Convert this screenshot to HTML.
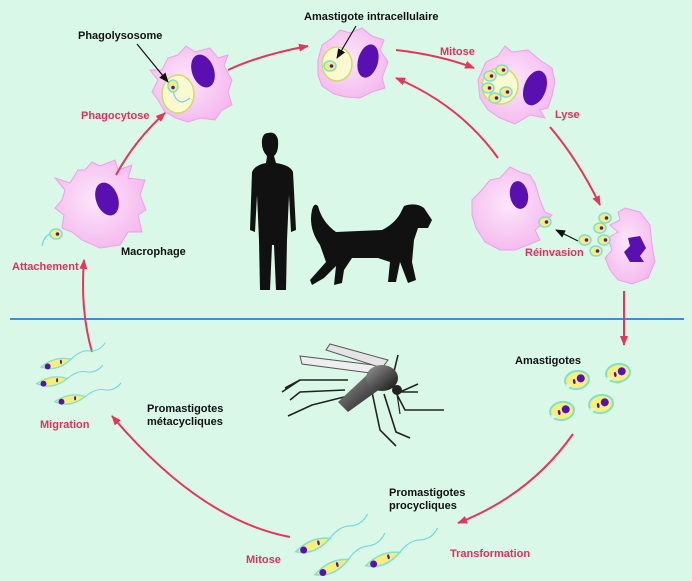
<!DOCTYPE html>
<html><head><meta charset="utf-8"><style>
html,body{margin:0;padding:0;background:#d9f8e7;}
svg{display:block}
text{font-family:"Liberation Sans",sans-serif;font-size:11px;font-weight:bold;}
.k{fill:#111}.r{fill:#e03060}
</style></head><body>
<svg width="692" height="581" viewBox="0 0 692 581" xmlns="http://www.w3.org/2000/svg">
<defs>
<marker id="a" markerWidth="10" markerHeight="8" refX="9" refY="4" orient="auto" markerUnits="userSpaceOnUse"><path d="M0,0 L10,4 L0,8 Z" fill="#e8345a"/></marker>
<marker id="b" markerWidth="10" markerHeight="8" refX="9" refY="4" orient="auto" markerUnits="userSpaceOnUse"><path d="M0,0 L10,4 L0,8 Z" fill="#111"/></marker>
<radialGradient id="p" cx="0.45" cy="0.45" r="0.6"><stop offset="0" stop-color="#fde6fb"/><stop offset="1" stop-color="#f4b8ee"/></radialGradient>
<linearGradient id="mb" x1="0" y1="0" x2="1" y2="1"><stop offset="0" stop-color="#999"/><stop offset="1" stop-color="#111"/></linearGradient>
<g id="am"><ellipse cx="0" cy="0" rx="12" ry="9" fill="#f6f07a" stroke="#7fe0d0" stroke-width="2"/><ellipse cx="4" cy="-1" rx="4" ry="4" fill="#5a10b0"/><ellipse cx="-3" cy="1" rx="1.3" ry="2.5" fill="#5a10b0"/><path d="M-12,2 L-6,4 L-11,7Z" fill="#d9f8e7"/></g>
<g id="mi"><ellipse cx="0" cy="0" rx="6" ry="5" fill="#f6f07a" stroke="#7fe0d0" stroke-width="1.5"/><circle cx="1.5" cy="0" r="1.8" fill="#5a10b0"/></g>
<g id="pr"><path d="M-18,2 Q0,-10 18,-4 Q0,10 -18,2Z" fill="#f6f07a" stroke="#7fe0d0" stroke-width="1.5"/><circle cx="-10" cy="2" r="3.5" fill="#5a10b0"/><ellipse cx="6" cy="-2" rx="1.2" ry="2.5" fill="#5a10b0"/><path d="M18,-4 Q30,-14 40,-12 Q52,-10 60,-20" fill="none" stroke="#6fd8e0" stroke-width="1.2"/></g>
</defs>
<line x1="10" y1="319" x2="684" y2="319" stroke="#3b8fd8" stroke-width="2"/>

<g fill="url(#p)" stroke="#f0a0e8" stroke-width="1">
<path d="M65,190 L55,178 L70,183 L78,170 L85,170 L92,162 L100,166 L115,160 L118,170 L132,165 L128,178 L145,180 L140,195 L146,210 L138,215 L142,232 L128,232 L120,245 L100,248 L82,240 L72,232 L62,228 L64,215 L55,208 L62,200Z"/>
<path d="M158,80 L150,70 L162,70 L168,58 L178,55 L186,46 L195,52 L210,48 L218,58 L228,55 L224,66 L232,80 L228,92 L232,105 L222,110 L215,120 L200,118 L188,122 L176,118 L165,112 L158,100 L152,92Z"/>
<path d="M318,60 L322,45 L332,38 L340,30 L350,33 L362,28 L372,36 L384,40 L380,50 L388,62 L382,78 L385,88 L372,92 L360,98 L346,97 L334,94 L322,86 L318,75Z"/>
<path d="M478,80 L486,62 L498,56 L505,46 L512,52 L528,50 L540,60 L552,68 L555,82 L552,96 L548,108 L540,110 L545,118 L530,115 L515,124 L500,118 L488,110 L480,98Z"/>
<path d="M472,200 L480,192 L490,180 L500,178 L510,167 L520,172 L530,175 L535,183 L540,200 L545,212 L552,215 L545,222 L535,230 L540,240 L528,245 L515,250 L500,250 L485,242 L476,228 L472,215Z"/>
<path d="M618,212 L625,208 L640,212 L650,225 L652,245 L655,262 L648,278 L632,284 L618,280 L610,270 L605,258 L612,250 L608,238 L618,232 L610,225 L620,220Z"/>
</g>
<g fill="#5a10b0">
<ellipse cx="107" cy="199" rx="11" ry="17" transform="rotate(-20 107 199)"/>
<ellipse cx="203" cy="71" rx="11" ry="17" transform="rotate(-20 203 71)"/>
<ellipse cx="368" cy="61" rx="10" ry="17" transform="rotate(15 368 61)"/>
<ellipse cx="535" cy="88" rx="11" ry="18" transform="rotate(20 535 88)"/>
<ellipse cx="519" cy="195" rx="9" ry="14" transform="rotate(-10 519 195)"/>
<path d="M628,238 L640,236 L646,248 L640,256 L644,262 L630,262 L624,252 L630,246Z"/>
</g>
<g fill="#fbf9d0" stroke="#c8e060" stroke-width="1.5">
<ellipse cx="178" cy="94" rx="16" ry="19"/>
<ellipse cx="337" cy="64" rx="15" ry="17"/>
<ellipse cx="500" cy="86" rx="18" ry="18"/>
</g>
<use href="#mi" transform="translate(173,86) rotate(90)"/>
<path d="M173,92 Q178,108 190,98" fill="none" stroke="#6fd8e0" stroke-width="1.2"/>
<use href="#mi" transform="translate(330,66)"/>
<use href="#mi" transform="translate(490,76)"/><use href="#mi" transform="translate(488,88)"/><use href="#mi" transform="translate(495,98)"/><use href="#mi" transform="translate(506,92)"/><use href="#mi" transform="translate(502,70)"/>
<use href="#mi" transform="translate(545,222)"/>
<use href="#mi" transform="translate(605,218)"/><use href="#mi" transform="translate(600,228)"/><use href="#mi" transform="translate(604,240)"/><use href="#mi" transform="translate(585,240)"/><use href="#mi" transform="translate(596,251)"/>
<use href="#mi" transform="translate(56,234)"/>
<path d="M50,234 Q44,236 42,246" fill="none" stroke="#6fd8e0" stroke-width="1.2"/>

<g stroke="#111" stroke-width="1.2" fill="none">
<path d="M137,44 L168,82" marker-end="url(#b)"/>
<path d="M356,26 L337,58" marker-end="url(#b)"/>
<path d="M578,241 L556,230" marker-end="url(#b)"/>
</g>
<g stroke="#e8345a" stroke-width="2" fill="none">
<path d="M116,175 Q135,140 165,113" marker-end="url(#a)"/>
<path d="M228,70 Q260,55 308,46" marker-end="url(#a)"/>
<path d="M396,50 Q440,55 474,68" marker-end="url(#a)"/>
<path d="M550,127 Q578,160 600,205" marker-end="url(#a)"/>
<path d="M498,158 Q460,105 396,78" marker-end="url(#a)"/>
<path d="M624,291 L624,345" marker-end="url(#a)"/>
<path d="M573,434 Q530,495 458,523" marker-end="url(#a)"/>
<path d="M290,537 Q200,520 112,416" marker-end="url(#a)"/>
<path d="M92,352 Q80,310 84,260" marker-end="url(#a)"/>
</g>

<path fill="#111" d="M268,133 Q276,131 278,140 Q279,152 274,156 L276,163 Q290,165 293,172 L296,230 L291,232 L289,195 L287,240 L286,290 L276,290 L274,245 L272,245 L270,290 L260,290 L259,240 L257,195 L255,232 L250,230 L252,172 Q255,165 266,163 L267,156 Q261,150 262,140 Q263,133 268,133Z"/>
<path fill="#111" d="M318,206 Q322,222 336,232 L382,230 Q394,224 400,214 L404,206 Q416,202 424,208 L432,220 L428,228 L418,228 L414,240 L412,262 L416,280 L408,283 L400,262 L396,282 L388,282 L390,262 L378,258 L352,258 L344,270 L342,283 L334,285 L336,266 L324,278 L312,285 L310,280 L326,262 L320,245 Q308,228 312,210 Q314,202 318,206Z"/>

<g stroke="#222" stroke-width="1.6" fill="none">
<path d="M348,380 L300,380 L282,392 M300,380 L285,388 M345,390 L300,392 L290,400"/>
<path d="M352,395 L312,405 L288,416"/>
<path d="M372,392 L380,430 L396,446"/>
<path d="M384,394 L396,432 L410,438"/>
<path d="M392,385 L405,410 L444,410"/>
<path d="M392,380 L398,355"/>
<path d="M400,392 L418,384 M400,392 L418,392"/>
</g>
<path d="M300,356 L382,366 L378,374 L302,364Z" fill="#eee" stroke="#555"/>
<path d="M330,344 L388,360 L382,368 L326,350Z" fill="#e4e4e4" stroke="#555"/>
<path d="M338,402 L368,374 L384,386 L348,412Z" fill="url(#mb)"/>
<ellipse cx="382" cy="378" rx="16" ry="13" fill="url(#mb)"/>
<circle cx="397" cy="390" r="5" fill="#222"/>
<path d="M397,394 L400,414" stroke="#222" stroke-width="1.2"/>

<use href="#am" transform="translate(577,380) rotate(-10)"/>
<use href="#am" transform="translate(618,373) rotate(-10)"/>
<use href="#am" transform="translate(562,411) rotate(-10)"/>
<use href="#am" transform="translate(601,404) rotate(-10)"/>
<g transform="translate(56,364) scale(0.85) rotate(-5)"><use href="#pr"/></g>
<g transform="translate(52,382) scale(0.85)"><use href="#pr"/></g>
<g transform="translate(70,400) scale(0.85)"><use href="#pr"/></g>
<use href="#pr" transform="translate(313,546) rotate(-12)"/>
<use href="#pr" transform="translate(332,568) rotate(-15)"/>
<use href="#pr" transform="translate(383,560) rotate(-12)"/>

<text class="k" x="78" y="39">Phagolysosome</text>
<text class="k" x="304" y="20">Amastigote intracellulaire</text>
<text class="r" x="440" y="55">Mitose</text>
<text class="r" x="555" y="118">Lyse</text>
<text class="r" x="81" y="119">Phagocytose</text>
<text class="r" x="525" y="256">Réinvasion</text>
<text class="r" x="12" y="270">Attachement</text>
<text class="k" x="121" y="255">Macrophage</text>
<text class="k" x="515" y="364">Amastigotes</text>
<text class="k" x="147" y="412">Promastigotes</text>
<text class="k" x="147" y="425">métacycliques</text>
<text class="r" x="40" y="428">Migration</text>
<text class="k" x="389" y="496">Promastigotes</text>
<text class="k" x="389" y="509">procycliques</text>
<text class="r" x="246" y="563">Mitose</text>
<text class="r" x="450" y="557">Transformation</text>
</svg>
</body></html>
